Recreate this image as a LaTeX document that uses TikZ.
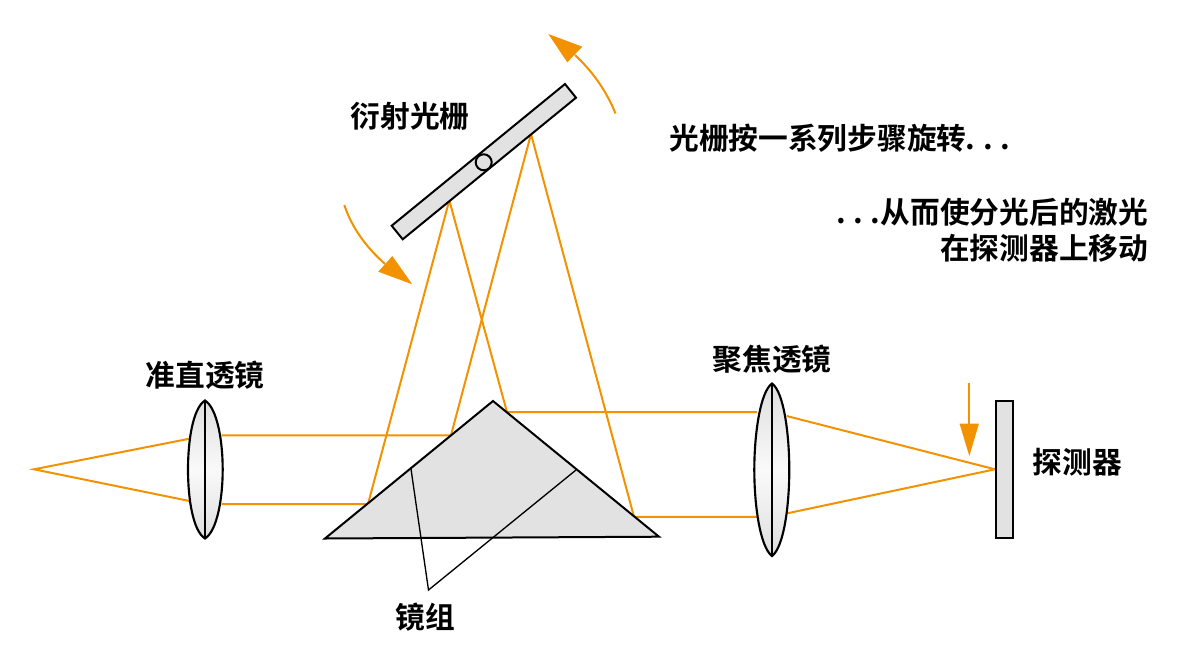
\documentclass[tikz,border=0pt]{standalone}
\usepackage{fontspec}
\setmainfont{Noto Sans CJK SC}[BoldFont={* Bold}]
\usetikzlibrary{calc}
\definecolor{ray}{HTML}{F39200}
\definecolor{body}{HTML}{E2E2E2}
\newcommand{\dotgap}{\kern5.8pt}
\tikzset{
  x=0.75pt,y=-0.75pt,
  rayline/.style={draw=ray,line width=1.5pt,line join=miter},
  solid body/.style={draw=black,line width=1.5pt,fill=body,line join=miter},
  lens outline/.style={draw=black,line width=1.6pt},
  thin line/.style={draw=black,line width=1pt},
  lbl/.style={font=\fontsize{22.3}{28}\selectfont\bfseries,text=black,inner sep=0pt},
  head/.style={fill=ray,draw=none}
}
\begin{document}
\begin{tikzpicture}
\useasboundingbox (0,0) rectangle (1200,665);
% points
\coordinate (src) at (34,469.3);
\coordinate (l1a) at (189.5,438.7);
\coordinate (l1b) at (189.5,501);
\coordinate (l1c) at (221.7,435.3);
\coordinate (l1d) at (221.7,504);
\coordinate (pl) at (451,435.3);
\coordinate (pll) at (368,504);
\coordinate (gA) at (449.3,200.3);
\coordinate (gB) at (531,134);
\coordinate (pr) at (507,412.2);
\coordinate (prr) at (634,516.8);
\coordinate (l2a) at (757,412.2);
\coordinate (l2b) at (757,516.8);
\coordinate (l2c) at (786.7,416);
\coordinate (l2d) at (787.3,513.3);
\coordinate (focus) at (995,469.3);
% rays
\draw[rayline] (l1a) -- (src) -- (l1b);
\draw[rayline] (l1c) -- (pl) -- (gB) -- (prr) -- (l2b);
\draw[rayline] (l1d) -- (pll) -- (gA) -- (pr) -- (l2a);
\draw[rayline] (l2c) -- (focus) -- (l2d);
% collimating lens
\begin{scope}
  \clip (205,400.5) .. controls (193,408) and (188,440) .. (188,469.5) .. controls (188,499) and (193,531) .. (205,538.5) .. controls (217,531) and (222.7,499) .. (222.7,469.5) .. controls (222.7,440) and (217,408) .. (205,400.5) -- cycle;
  \fill[top color=black!13,bottom color=black!13,middle color=black!2] (185,400) rectangle (225,539);
\end{scope}
\draw[lens outline] (205,400.5) .. controls (193,408) and (188,440) .. (188,469.5) .. controls (188,499) and (193,531) .. (205,538.5) .. controls (217,531) and (222.7,499) .. (222.7,469.5) .. controls (222.7,440) and (217,408) .. (205,400.5) -- cycle;
\coordinate (l1t) at (205,400.5);
\coordinate (l1u) at (205,538.5);
\draw[lens outline] (l1t) -- (l1u);
% focusing lens
\begin{scope}
  \clip (772,383.5) .. controls (760,392) and (754.3,435) .. (754.3,469.8) .. controls (754.3,505) and (760,547) .. (772,556) .. controls (784,547) and (789.3,505) .. (789.3,469.8) .. controls (789.3,435) and (784,392) .. (772,383.5) -- cycle;
  \fill[top color=black!13,bottom color=black!13,middle color=black!2] (750,383) rectangle (793,557);
\end{scope}
\draw[lens outline] (772,383.5) .. controls (760,392) and (754.3,435) .. (754.3,469.8) .. controls (754.3,505) and (760,547) .. (772,556) .. controls (784,547) and (789.3,505) .. (789.3,469.8) .. controls (789.3,435) and (784,392) .. (772,383.5) -- cycle;
\coordinate (l2t) at (772,383.5);
\coordinate (l2u) at (772,556);
\draw[lens outline] (l2t) -- (l2u);
% prism
\coordinate (pa) at (325,538.5);
\coordinate (pb) at (493,401);
\coordinate (pc) at (659,536.7);
\draw[solid body] (pa) -- (pb) -- (pc) -- cycle;
\coordinate (m1) at (411,469);
\coordinate (m2) at (576,470);
\coordinate (mv) at (428.5,590);
\draw[thin line] (m1) -- (mv) -- (m2);
% grating
\draw[solid body] (565,84) -- (576,97.7) -- (402.7,239.3) -- (391.7,225.7) -- cycle;
\node[circle,draw=black,line width=1.5pt,fill=body,minimum size=12pt,inner sep=0pt] (pivot) at (483.7,162.3) {};
% detector
\node[solid body,anchor=north west,outer sep=0pt,minimum width=12.6pt,minimum height=103pt,inner sep=0pt] (det) at (995.8,401) {};
% arrows
\coordinate (a1s) at (969.3,383);
\coordinate (a1b) at (969.3,424);
\coordinate (a1t) at (969.3,456);
\draw[ray,line width=1.5pt] (a1s) -- (a1b);
\fill[head] (959.5,423.5) -- (979,423.5) -- (a1t) -- cycle;
\coordinate (a2s) at (615.5,113.5);
\coordinate (a2e) at (575,55);
\draw[ray,line width=1.5pt] (a2s) .. controls (606,90) and (592,71) .. (a2e);
\fill[head] (582.3,46.7) -- (567.3,62.3) -- (548.3,34) -- cycle;
\coordinate (a3s) at (344.3,205);
\coordinate (a3e) at (385,264);
\draw[ray,line width=1.5pt] (a3s) .. controls (352,228) and (366,247) .. (a3e);
\fill[head] (392.3,256) -- (378.3,271.7) -- (412.3,284.3) -- cycle;
% labels
\node[lbl] (t1) at (410,116) {衍射光栅};
\node[lbl] (t2) at (205,375) {准直透镜};
\node[lbl] (t3) at (772,359) {聚焦透镜};
\node[lbl] (t4) at (1077.5,462) {探测器};
\node[lbl] (t5) at (425,617) {镜组};
\node[lbl,anchor=west] (t6) at (669,138) {光栅按一系列步骤旋转\kern-0.5pt.\dotgap.\dotgap.};
\node[lbl,anchor=east] (t7) at (1148.5,212) {.\dotgap.\dotgap.\kern0pt 从而使分光后的激光};
\node[lbl,anchor=east] (t8) at (1148.5,248) {在探测器上移动};
\end{tikzpicture}
\end{document}
